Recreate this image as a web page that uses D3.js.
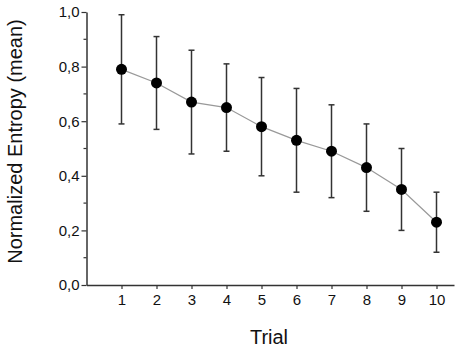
<!DOCTYPE html>
<html>
<head>
<meta charset="utf-8">
<script src="https://cdn.jsdelivr.net/npm/d3@7"></script>
<style>
  body { margin: 0; background: #fff; }
  text { font-family: Arial, "Liberation Sans", sans-serif; }
</style>
</head>
<body>
<div id="chart"></div>
<script>
// values
const trials = [1, 2, 3, 4, 5, 6, 7, 8, 9, 10];
const means = [0.79, 0.74, 0.67, 0.65, 0.58, 0.53, 0.49, 0.43, 0.35, 0.23];
const upper = [0.99, 0.91, 0.86, 0.81, 0.76, 0.72, 0.66, 0.59, 0.50, 0.34];
const lower = [0.59, 0.57, 0.48, 0.49, 0.40, 0.34, 0.32, 0.27, 0.20, 0.12];
const yTicks = [0, 0.2, 0.4, 0.6, 0.8, 1.0];
const yMinor = [0.1, 0.3, 0.5, 0.7, 0.9];

const W = 459, H = 351;
const axisColor = "#333";

const svg = d3.select("#chart").append("svg")
    .attr("width", W)
    .attr("height", H);

svg.append("rect").attr("width", W).attr("height", H).attr("fill", "#fff");

let x = d3.scaleLinear().domain([0, 10.5]).range([86.5, 454]);
let y = d3.scaleLinear().domain([0, 1]).range([285, 12]);

// y axis
let axisY = d3.axisLeft(y).tickValues(yTicks).tickSize(5).tickSizeOuter(0)
    .tickFormat(d => d3.format(".1f")(d).replace(".", ","));
let gy = svg.append("g")
    .attr("transform", `translate(${x(0)},0)`)
    .call(axisY);
gy.select(".domain").attr("stroke", axisColor).attr("stroke-width", 1.5);
gy.selectAll(".tick line").attr("stroke", axisColor).attr("stroke-width", 1.2);
gy.selectAll(".tick text").attr("font-size", 15).attr("fill", "#111").attr("x", -7);

// minor y ticks
svg.append("g").selectAll("line")
    .data(yMinor)
    .enter().append("line")
    .attr("x1", x(0) - 3).attr("x2", x(0))
    .attr("y1", d => y(d)).attr("y2", d => y(d))
    .attr("stroke", axisColor).attr("stroke-width", 1.2);

// x axis
let axisX = d3.axisBottom(x).tickValues(trials).tickSize(4).tickSizeOuter(0);
let gx = svg.append("g")
    .attr("transform", `translate(0,${y(0)})`)
    .call(axisX);
gx.select(".domain").attr("stroke", axisColor).attr("stroke-width", 1.5);
gx.selectAll(".tick line").attr("stroke", axisColor).attr("stroke-width", 1.2);
gx.selectAll(".tick text").attr("font-size", 15).attr("fill", "#111").attr("y", 9);

// axis titles
svg.append("text")
    .attr("x", 269).attr("y", 344)
    .attr("text-anchor", "middle")
    .attr("font-size", 20)
    .attr("fill", "#111")
    .text("Trial");

svg.append("text")
    .attr("transform", `translate(22,${(y(0) + y(1)) / 2 - 7}) rotate(-90)`)
    .attr("text-anchor", "middle")
    .attr("font-size", 20)
    .attr("fill", "#111")
    .text("Normalized Entropy (mean)");

// connecting line
let line = d3.line()
    .x((d, i) => x(trials[i]))
    .y(d => y(d));
svg.append("path")
    .datum(means)
    .attr("d", line)
    .attr("fill", "none")
    .attr("stroke", "#999")
    .attr("stroke-width", 1.2);

// error bars
let bars = svg.append("g").selectAll("g")
    .data(trials)
    .enter().append("g")
    .attr("stroke", axisColor)
    .attr("stroke-width", 1.5);
bars.append("line")
    .attr("x1", d => x(d)).attr("x2", d => x(d))
    .attr("y1", (d, i) => y(upper[i])).attr("y2", (d, i) => y(lower[i]));
bars.append("line")
    .attr("x1", d => x(d) - 3).attr("x2", d => x(d) + 3)
    .attr("y1", (d, i) => y(upper[i])).attr("y2", (d, i) => y(upper[i]));
bars.append("line")
    .attr("x1", d => x(d) - 3).attr("x2", d => x(d) + 3)
    .attr("y1", (d, i) => y(lower[i])).attr("y2", (d, i) => y(lower[i]));

// points
svg.append("g").selectAll("circle")
    .data(means)
    .enter().append("circle")
    .attr("cx", (d, i) => x(trials[i]))
    .attr("cy", d => y(d))
    .attr("r", 5.5)
    .attr("fill", "#000");
</script>
</body>
</html>
